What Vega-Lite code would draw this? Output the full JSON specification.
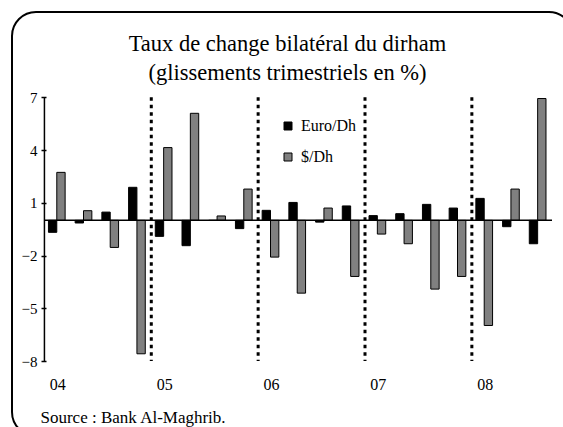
{
  "$schema": "https://vega.github.io/schema/vega-lite/v6.json",
  "width": 561,
  "height": 424,
  "autosize": {"type": "none"},
  "padding": {"left": 12, "top": 12, "right": 0, "bottom": 0},
  "background": "white",
  "title": {
    "text": ["Taux de change bilatéral du dirham", "(glissements trimestriels en %)"],
    "font": "Liberation Serif",
    "fontSize": 22.5,
    "fontWeight": "normal",
    "lineHeight": 29,
    "color": "black",
    "anchor": "middle",
    "offset": -72,
    "dx": -5
  },
  "config": {
    "view": {"stroke": "black", "strokeWidth": 2, "cornerRadius": 24},
    "font": "Liberation Serif",
    "axis": {"labelFont": "Liberation Serif", "titleFont": "Liberation Serif", "labelColor": "black", "titleColor": "black", "grid": false},
    "legend": {"labelFont": "Liberation Serif", "titleFont": "Liberation Serif"},
    "text": {"font": "Liberation Serif"}
  },
  "layer": [
    {
      "data": {
        "values": [
          {"q": "04-T1", "serie": "Euro/Dh", "v": -0.68}, {"q": "04-T1", "serie": "$/Dh", "v": 2.73},
          {"q": "04-T2", "serie": "Euro/Dh", "v": -0.15}, {"q": "04-T2", "serie": "$/Dh", "v": 0.55},
          {"q": "04-T3", "serie": "Euro/Dh", "v": 0.47}, {"q": "04-T3", "serie": "$/Dh", "v": -1.54},
          {"q": "04-T4", "serie": "Euro/Dh", "v": 1.88}, {"q": "04-T4", "serie": "$/Dh", "v": -7.59},
          {"q": "05-T1", "serie": "Euro/Dh", "v": -0.91}, {"q": "05-T1", "serie": "$/Dh", "v": 4.14},
          {"q": "05-T2", "serie": "Euro/Dh", "v": -1.44}, {"q": "05-T2", "serie": "$/Dh", "v": 6.09},
          {"q": "05-T3", "serie": "Euro/Dh", "v": 0.0}, {"q": "05-T3", "serie": "$/Dh", "v": 0.25},
          {"q": "05-T4", "serie": "Euro/Dh", "v": -0.47}, {"q": "05-T4", "serie": "$/Dh", "v": 1.78},
          {"q": "06-T1", "serie": "Euro/Dh", "v": 0.57}, {"q": "06-T1", "serie": "$/Dh", "v": -2.09},
          {"q": "06-T2", "serie": "Euro/Dh", "v": 1.02}, {"q": "06-T2", "serie": "$/Dh", "v": -4.14},
          {"q": "06-T3", "serie": "Euro/Dh", "v": -0.1}, {"q": "06-T3", "serie": "$/Dh", "v": 0.7},
          {"q": "06-T4", "serie": "Euro/Dh", "v": 0.82}, {"q": "06-T4", "serie": "$/Dh", "v": -3.19},
          {"q": "07-T1", "serie": "Euro/Dh", "v": 0.27}, {"q": "07-T1", "serie": "$/Dh", "v": -0.78},
          {"q": "07-T2", "serie": "Euro/Dh", "v": 0.38}, {"q": "07-T2", "serie": "$/Dh", "v": -1.33},
          {"q": "07-T3", "serie": "Euro/Dh", "v": 0.91}, {"q": "07-T3", "serie": "$/Dh", "v": -3.91},
          {"q": "07-T4", "serie": "Euro/Dh", "v": 0.7}, {"q": "07-T4", "serie": "$/Dh", "v": -3.19},
          {"q": "08-T1", "serie": "Euro/Dh", "v": 1.25}, {"q": "08-T1", "serie": "$/Dh", "v": -5.98},
          {"q": "08-T2", "serie": "Euro/Dh", "v": -0.36}, {"q": "08-T2", "serie": "$/Dh", "v": 1.78},
          {"q": "08-T3", "serie": "Euro/Dh", "v": -1.33}, {"q": "08-T3", "serie": "$/Dh", "v": 6.93}
        ]
      },
      "mark": {"type": "bar", "stroke": "black", "strokeWidth": 1},
      "encoding": {
        "x": {
          "field": "q", "type": "nominal",
          "scale": {"domain": ["04-T1","04-T2","04-T3","04-T4","05-T1","05-T2","05-T3","05-T4","06-T1","06-T2","06-T3","06-T4","07-T1","07-T2","07-T3","07-T4","08-T1","08-T2","08-T3"], "paddingInner": 0, "paddingOuter": 1.0535, "align": 0.607, "round": false},
          "axis": {
            "offset": -60, "domain": false, "ticks": false, "labelPadding": 0, "labelAngle": 0,
            "labelFont": "Liberation Serif", "labelFontSize": 16, "labelOverlap": false,
            "labelExpr": "indexof(datum.value, 'T1') >= 0 ? slice(datum.value, 0, 2) : ''",
            "title": "Source : Bank Al-Maghrib.", "titleFont": "Liberation Serif", "titleFontSize": 17, "titleFontWeight": "normal",
            "titleAnchor": "start", "titleAlign": "left", "titleX": 28, "titleY": 46, "titleBaseline": "alphabetic"
          }
        },
        "xOffset": {"field": "serie", "type": "nominal", "scale": {"domain": ["Euro/Dh", "$/Dh"], "paddingInner": 0, "paddingOuter": 0.6, "align": 0.4, "round": false}},
        "y": {
          "field": "v", "type": "quantitative",
          "scale": {"domain": [-12.266, 11.852], "nice": false, "zero": false},
          "axis": {"values": [-8, -5, -2, 1, 4, 7], "offset": -34, "domain": false, "tickSize": 5, "tickColor": "black", "tickWidth": 1.5, "labelPadding": 4, "labelFont": "Liberation Serif", "labelFontSize": 15, "title": null}
        },
        "y2": {"datum": 0},
        "color": {
          "field": "serie", "type": "nominal",
          "scale": {"domain": ["Euro/Dh", "$/Dh"], "range": ["#000000", "#808080"]},
          "legend": {
            "orient": "none", "legendX": 268, "legendY": 106, "title": null, "padding": 0,
            "symbolType": "square", "symbolSize": 64, "symbolStrokeColor": "black", "symbolStrokeWidth": 1,
            "labelFont": "Liberation Serif", "labelFontSize": 16, "labelColor": "black", "labelOffset": 5, "rowPadding": 15
          }
        }
      }
    },
    {
      "data": {"values": [{}]},
      "mark": {"type": "rule", "color": "black", "strokeWidth": 1.5},
      "encoding": {
        "x": {"datum": "04-T1", "type": "nominal", "bandPosition": 0,
          "scale": {"domain": ["04-T1","04-T2","04-T3","04-T4","05-T1","05-T2","05-T3","05-T4","06-T1","06-T2","06-T3","06-T4","07-T1","07-T2","07-T3","07-T4","08-T1","08-T2","08-T3"], "paddingInner": 0, "paddingOuter": 1.0535, "align": 0.607, "round": false}},
        "x2": {"datum": "08-T3", "bandPosition": 1},
        "y": {"datum": 0, "type": "quantitative", "scale": {"domain": [-12.266, 11.852], "nice": false, "zero": false}}
      }
    },
    {
      "data": {"values": [{}]},
      "mark": {"type": "rule", "color": "black", "strokeWidth": 1.5},
      "encoding": {
        "x": {"datum": "04-T1", "type": "nominal", "bandPosition": 0,
          "scale": {"domain": ["04-T1","04-T2","04-T3","04-T4","05-T1","05-T2","05-T3","05-T4","06-T1","06-T2","06-T3","06-T4","07-T1","07-T2","07-T3","07-T4","08-T1","08-T2","08-T3"], "paddingInner": 0, "paddingOuter": 1.0535, "align": 0.607, "round": false}},
        "y": {"datum": 7, "type": "quantitative", "scale": {"domain": [-12.266, 11.852], "nice": false, "zero": false}},
        "y2": {"datum": -8}
      }
    },
    {
      "data": {"values": [{"q": "05-T1"}, {"q": "06-T1"}, {"q": "07-T1"}, {"q": "08-T1"}]},
      "mark": {"type": "rule", "color": "black", "strokeWidth": 3, "strokeDash": [3.5, 4]},
      "encoding": {
        "x": {"field": "q", "type": "nominal", "bandPosition": 0,
          "scale": {"domain": ["04-T1","04-T2","04-T3","04-T4","05-T1","05-T2","05-T3","05-T4","06-T1","06-T2","06-T3","06-T4","07-T1","07-T2","07-T3","07-T4","08-T1","08-T2","08-T3"], "paddingInner": 0, "paddingOuter": 1.0535, "align": 0.607, "round": false}},
        "y": {"datum": 7, "type": "quantitative", "scale": {"domain": [-12.266, 11.852], "nice": false, "zero": false}},
        "y2": {"datum": -8}
      }
    }
  ]
}
